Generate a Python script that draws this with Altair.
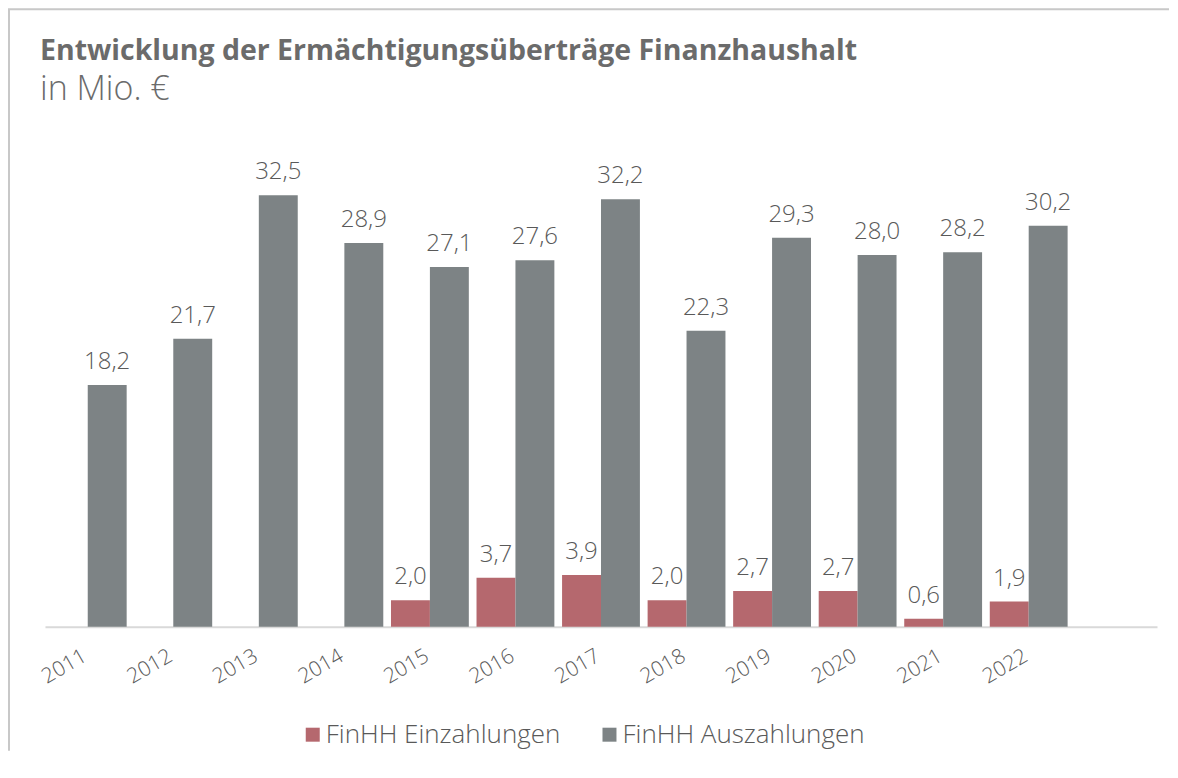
import altair as alt
import pandas as pd

years = ["2011", "2012", "2013", "2014", "2015", "2016", "2017", "2018",
         "2019", "2020", "2021", "2022"]
series_names = ["FinHH Einzahlungen", "FinHH Auszahlungen"]
einzahlungen = [None, None, None, None, 2.0, 3.7, 3.9, 2.0, 2.7, 2.7, 0.6, 1.9]
auszahlungen = [18.2, 21.7, 32.5, 28.9, 27.1, 27.6, 32.2, 22.3, 29.3, 28.0, 28.2, 30.2]
colors = ["#b5686e", "#7d8385"]
title_text = "Entwicklung der Ermächtigungsüberträge Finanzhaushalt"
subtitle_text = "in Mio. €"

rows = []
for y, e, a in zip(years, einzahlungen, auszahlungen):
    if e is not None:
        rows.append({"year": y, "series": series_names[0], "value": e})
    rows.append({"year": y, "series": series_names[1], "value": a})
df = pd.DataFrame(rows)

FONT = "Open Sans"
TXT = "#595959"
TITLE_C = "#6b6b6b"

x_enc = alt.X("year:N", title=None,
              scale=alt.Scale(domain=years + [" "], paddingInner=0.09, paddingOuter=0.045),
              axis=alt.Axis(labelAngle=-30, labelFontSize=21, labelColor=TXT,
                            labelFont=FONT, labelFontWeight=300, ticks=False,
                            labelPadding=18, labelOffset=-8,
                            domainColor="#d9d9d9", domainWidth=2))
xo_enc = alt.XOffset("series:N", scale=alt.Scale(domain=series_names))
y_enc = alt.Y("value:Q", title=None, scale=alt.Scale(domain=[0, 46.5], nice=False),
              axis=None)

base = alt.Chart(df).encode(x=x_enc, xOffset=xo_enc)

bars = base.mark_bar().encode(
    y=y_enc,
    color=alt.Color("series:N", scale=alt.Scale(domain=series_names, range=colors),
                    legend=alt.Legend(title=None, orient="none", legendX=255, legendY=713,
                                      direction="horizontal", symbolType="square",
                                      symbolSize=196, symbolStrokeWidth=0,
                                      labelFontSize=26, labelFont=FONT, labelFontWeight=300,
                                      labelColor=TXT, labelOffset=0, columnPadding=36,
                                      labelLimit=0)),
)

labels = base.mark_text(baseline="alphabetic", dy=-16, fontSize=24, font=FONT,
                        fontWeight=300, color=TXT).transform_calculate(
    label="replace(format(datum.value, '.1f'), '.', ',')"
).encode(y=y_enc, text="label:N")

one = pd.DataFrame({"t": [title_text], "s": [subtitle_text]})
title_mark = alt.Chart(one).mark_text(align="left", baseline="alphabetic", font=FONT,
                                      fontSize=28.5, fontWeight="bold", color=TITLE_C).encode(
    x=alt.value(-5), y=alt.value(51), text="t:N")
subtitle_mark = alt.Chart(one).mark_text(align="left", baseline="alphabetic", font=FONT,
                                         fontSize=34, fontWeight=300, color=TITLE_C).encode(
    x=alt.value(-5), y=alt.value(91), text="s:N")

# frame: only the top and left edges of a rectangle are stroked (dash pattern)
FX0, FX1, FY0, FY1 = -36, 1125, 0, 742
W, H = FX1 - FX0, FY1 - FY0
frame = alt.Chart(one).mark_rect(fill=None, fillOpacity=0, stroke="#c8c8c8", strokeWidth=2,
                                 strokeDash=[W, W + H, H]).encode(
    x=alt.value(FX0), x2=alt.value(FX1), y=alt.value(FY0), y2=alt.value(FY1))

chart = alt.layer(frame, title_mark, subtitle_mark, bars, labels).properties(
    width=1113, height=618,
    padding=0,
).configure_view(stroke="transparent")

chart.save("out.html", embed_options={"renderer": "svg", "actions": False})
